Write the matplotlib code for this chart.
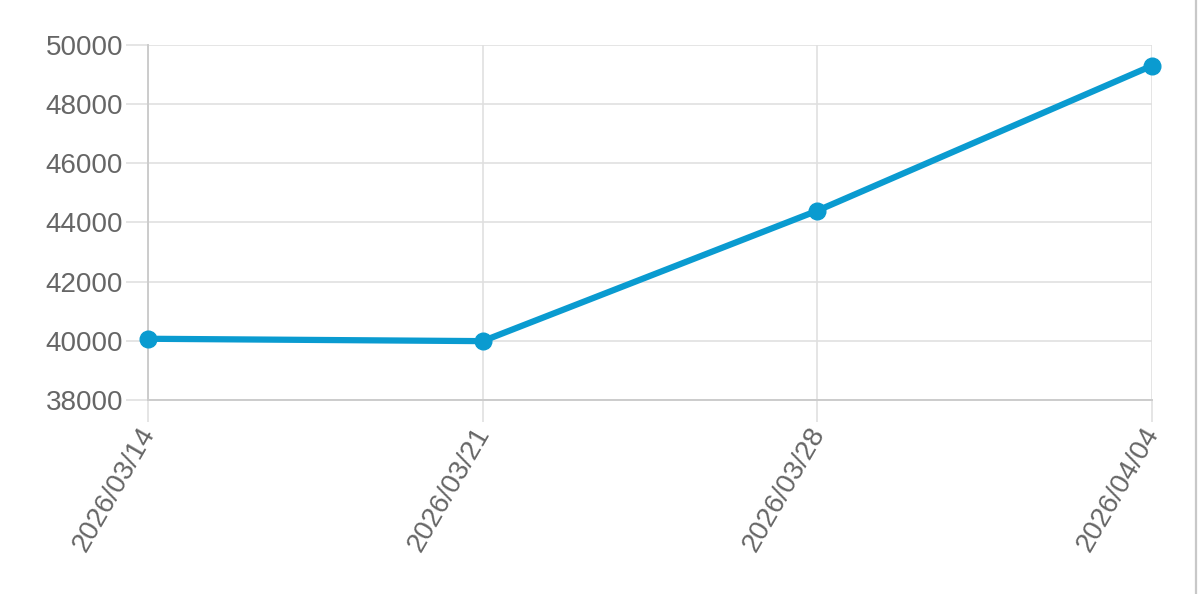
import matplotlib
matplotlib.use("Agg")
import matplotlib.pyplot as plt
from matplotlib.lines import Line2D

dates = ["2026/03/14", "2026/03/21", "2026/03/28", "2026/04/04"]
values = [40070, 39990, 44400, 49300]
yticks = [38000, 40000, 42000, 44000, 46000, 48000, 50000]

plt.rcParams['font.family'] = ['Liberation Sans', 'DejaVu Sans']

fig = plt.figure(figsize=(12, 5.94), dpi=100)
ax = fig.add_axes([148/1200, 1-400/594, (1152-148)/1200, (400-45)/594])

x = list(range(len(dates)))
ax.plot(x, values, color='#0a9bd0', lw=4.5, marker='o', markersize=12,
        solid_capstyle='round', clip_on=False, zorder=3)

ax.set_xlim(0, len(dates)-1)
ax.set_ylim(38000, 50000)
ax.set_yticks(yticks)
ax.set_yticklabels([str(v) for v in yticks])
ax.set_xticks(x)
ax.set_xticklabels([])

for xi, d in zip(x, dates):
    ax.annotate(d, xy=(xi, 0), xycoords=('data', 'axes fraction'),
                xytext=(-10, -23), textcoords='offset pixels',
                rotation=60, ha='right', va='top', rotation_mode='anchor',
                fontsize=20, color='#666666', annotation_clip=False)

ax.grid(True, color='#e0e0e0', lw=1.2, zorder=0)
ax.tick_params(axis='both', length=16, width=1.2, color='#e0e0e0',
               labelsize=20, labelcolor='#666666', pad=2)
for s in ['top', 'right']:
    ax.spines[s].set_visible(False)
for s in ['left', 'bottom']:
    ax.spines[s].set_color('#cccccc')
    ax.spines[s].set_linewidth(1.4)

# right-hand border line of the frame
fig.add_artist(Line2D([1196/1200, 1196/1200], [0, 1], transform=fig.transFigure,
                      color='#c8c8c8', lw=1.6))

fig.savefig('out.png', dpi=100, facecolor='white')
